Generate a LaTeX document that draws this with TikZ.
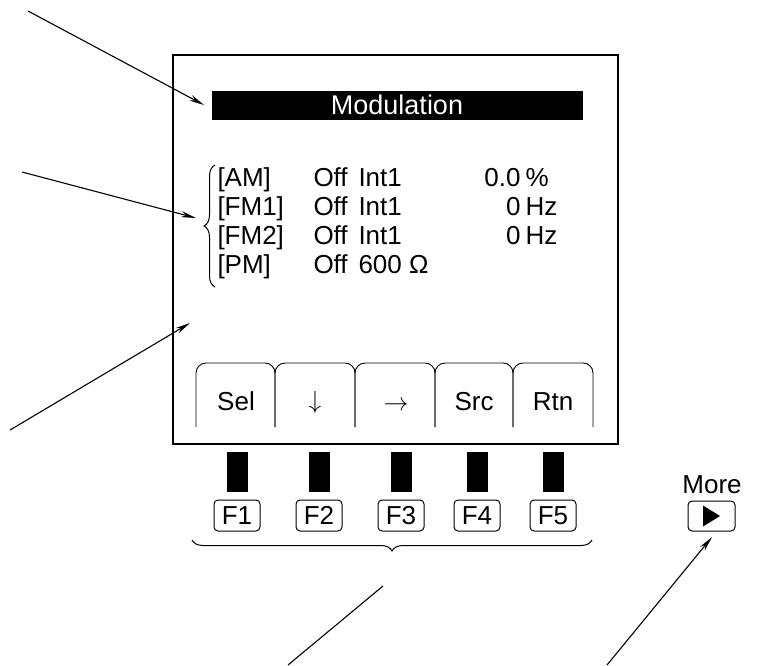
\documentclass[tikz,border=0pt]{standalone}
\usepackage{fontspec}
\setmainfont{Liberation Sans}
\usetikzlibrary{arrows.meta,decorations.pathreplacing}
\begin{document}
\begin{tikzpicture}[x=1pt,y=-1pt,line width=1pt,
  font=\fontsize{26}{30}\selectfont,
  arr/.style={-{Stealth[length=15pt,width=6pt]},line width=1.1pt},
  tabshape/.style={draw,rounded corners=10pt,line width=0.9pt},
  keybar/.style={fill=black,minimum width=21pt,minimum height=40pt,inner sep=0pt},
  fkey/.style={draw,rounded corners=4pt,minimum width=46pt,minimum height=31pt,inner sep=0pt,line width=1pt},
  txt/.style={inner sep=0pt,anchor=base west},
  num/.style={inner sep=0pt,anchor=base east},
  tablabel/.style={inner sep=0pt,anchor=base},
  bigarrow/.style={inner sep=0pt,anchor=base,font=\fontsize{30}{30}\selectfont},
  bracestyle/.style={decorate,decoration={brace,amplitude=11pt},line width=1pt}]
\useasboundingbox (0,0) rectangle (757,665);

% screen
\node[draw,line width=2.2pt,minimum width=445pt,minimum height=389pt,anchor=north west,inner sep=0pt] (screen) at (172,54) {};

% title bar
\node[fill=black,minimum width=371pt,minimum height=29pt,inner sep=0pt,anchor=north west] (titlebar) at (211,90) {};
\node[text=white,inner sep=0pt,anchor=base,font=\fontsize{27}{30}\selectfont] (title) at (397,114) {Modulation};

% rows
\node[txt] (am)  at (217,186) {[AM]};
\node[txt] (fm1) at (217,215) {[FM1]};
\node[txt] (fm2) at (217,244) {[FM2]};
\node[txt] (pm)  at (217,273) {[PM]};
\node[txt] (amoff)  at (313,186) {Off};
\node[txt] (fm1off) at (313,215) {Off};
\node[txt] (fm2off) at (313,244) {Off};
\node[txt] (pmoff)  at (313,273) {Off};
\node[txt] (amsrc)  at (358,186) {Int1};
\node[txt] (fm1src) at (358,215) {Int1};
\node[txt] (fm2src) at (358,244) {Int1};
\node[txt] (pmimp)  at (358,273) {600 Ω};
\node[num] (amval)  at (521,186) {0.0};
\node[num] (fm1val) at (521,215) {0};
\node[num] (fm2val) at (521,244) {0};
\node[txt] (amunit)  at (525,186) {\%};
\node[txt] (fm1unit) at (525,215) {Hz};
\node[txt] (fm2unit) at (525,244) {Hz};

% left brace
\coordinate (lbB) at (215,287);
\coordinate (lbT) at (215,165);
\draw[bracestyle] (lbB) -- (lbT);

% tabs
\foreach \a/\b in {196/275,275/355,355/435,435/513,513/593}
  \draw[tabshape] (\a,427) -- (\a,363) -- (\b,363) -- (\b,427);
\node[tablabel] (sel) at (236,410) {Sel};
\node[bigarrow] (down) at (315,408) {$\downarrow$};
\node[bigarrow] (right) at (396,410) {$\rightarrow$};
\node[tablabel] (src) at (474,410) {Src};
\node[tablabel] (rtn) at (553,410) {Rtn};

% key bars and F keys
\node[keybar] (b1) at (237,472) {};
\node[keybar] (b2) at (319,472) {};
\node[keybar] (b3) at (401,472) {};
\node[keybar] (b4) at (477,472) {};
\node[keybar] (b5) at (553,472) {};
\node[fkey] (f1) at (237,515.5) {F1};
\node[fkey] (f2) at (319,515.5) {F2};
\node[fkey] (f3) at (401,515.5) {F3};
\node[fkey] (f4) at (477,515.5) {F4};
\node[fkey] (f5) at (553,515.5) {F5};

% bottom brace
\coordinate (bbR) at (592,540);
\coordinate (bbL) at (192,540);
\draw[bracestyle] (bbR) -- (bbL);

% More key
\node[inner sep=0pt,anchor=base] (moretxt) at (712,493) {More};
\node[fkey,minimum width=47pt,minimum height=30pt] (morekey) at (711.5,516) {};
\fill (703,505.5) -- (703,526.5) -- (720,516) -- cycle;

% arrows
\coordinate (a1s) at (28,11);   \coordinate (a1e) at (204,105);
\coordinate (a2s) at (22,172);  \coordinate (a2e) at (196,218);
\coordinate (a3s) at (10,430);  \coordinate (a3e) at (190,323);
\coordinate (a4s) at (607,665); \coordinate (a4e) at (712,537);
\coordinate (ldA) at (383,586); \coordinate (ldB) at (288,665);
\draw[arr] (a1s) -- (a1e);
\draw[arr] (a2s) -- (a2e);
\draw[arr] (a3s) -- (a3e);
\draw[arr] (a4s) -- (a4e);
\draw[line width=1.1pt] (ldA) -- (ldB);
\end{tikzpicture}
\end{document}
